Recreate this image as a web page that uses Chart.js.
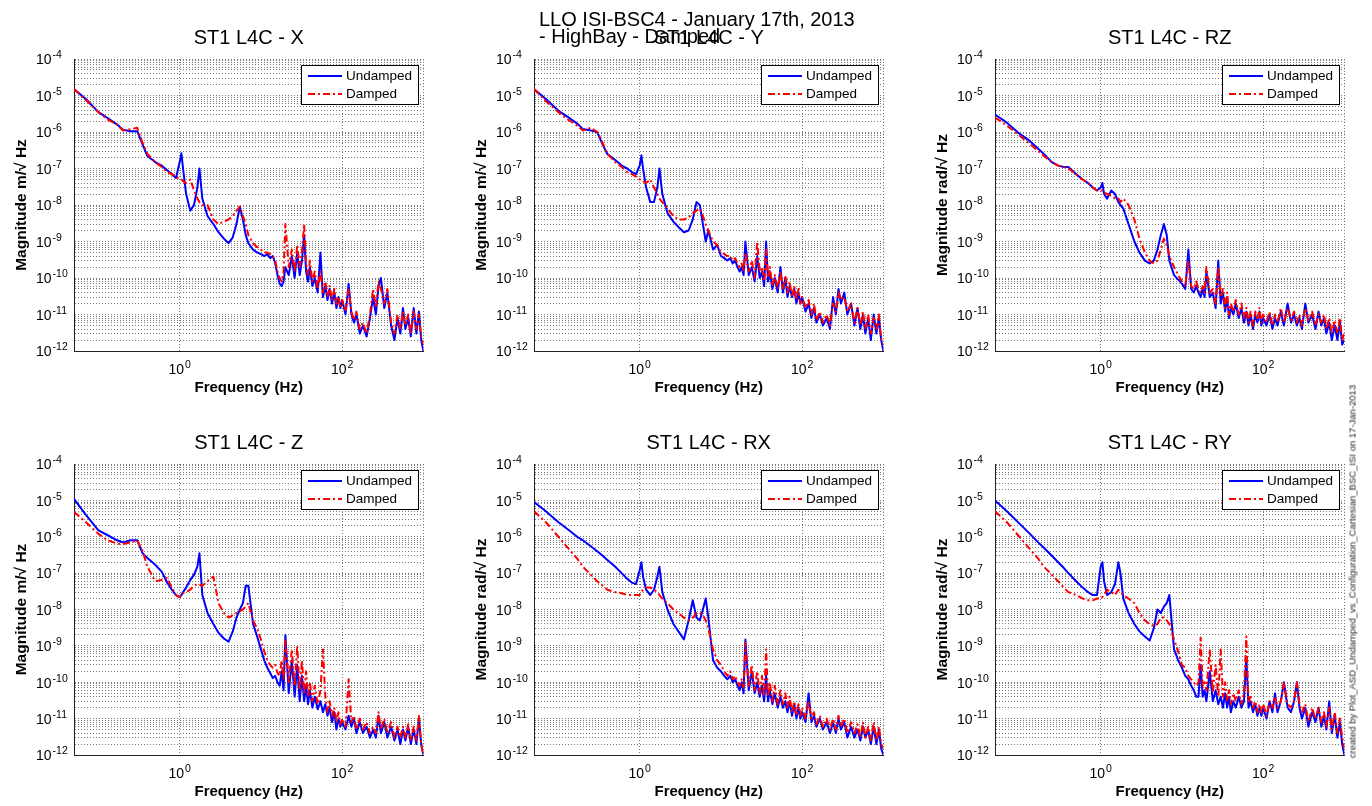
<!DOCTYPE html>
<html>
<head>
<meta charset="utf-8">
<title>LLO ISI-BSC4 ST1 L4C ASD</title>
<script src="https://cdn.jsdelivr.net/npm/chart.js@4.4.1/dist/chart.umd.min.js"></script>
<style>
  html, body { margin:0; padding:0; background:#fff; }
  body { width:1372px; height:806px; position:relative; overflow:hidden; font-family:"Liberation Sans", Arial, sans-serif; color:#000; }
  .panel { position:absolute; }
  .panel canvas { display:block; }
  #suptitle { position:absolute; left:539px; top:11px; font-size:20px; line-height:17px; white-space:nowrap; z-index:5; }
  #credit { position:absolute; left:1162px; top:566px; width:380px; height:11px; line-height:11px; font-size:9.5px; text-align:center; white-space:nowrap; transform:rotate(-90deg); transform-origin:50% 50%; z-index:5; color:#222; }
</style>
</head>
<body>
<div id="suptitle"></div>
<div id="credit"></div>
<script>
// ---------------- data ----------------
const FREQ = [0.05,0.07,0.1,0.13,0.17,0.2,0.25,0.3,0.35,0.4,
  0.5,0.6,0.7,0.8,0.9,1.0,1.05,1.1,1.2,1.35,
  1.5,1.65,1.75,1.9,2.2,2.6,3.0,3.5,4.0,4.5,
  5.0,5.5,6.0,6.5,7.0,8.0,9.0,10,11,12,
  13,14,15,16,17,18,19,20,22,24,
  26,28,30,32,34,36,38,40,43,46,
  50,54,58,62,66,70,75,80,85,90,
  95,100,110,120,130,140,150,165,180,200,
  220,240,260,280,300,330,360,400,440,480,
  520,560,600,650,700,760,820,880,940,1000];

const X_UND = [1.5e-5,8e-6,3.5e-6,2.4e-6,1.6e-6,1.15e-6,1.05e-6,1.05e-6,4.5e-7,2.2e-7,
  1.5e-7,1.2e-7,9e-8,7e-8,5.5e-8,1.5e-7,2.6e-7,1e-7,2e-8,7e-9,
  1e-8,3e-8,1e-7,1.5e-8,5e-9,3e-9,1.8e-9,1.2e-9,9e-10,1.3e-9,
  3e-9,9e-9,4e-9,1.5e-9,9e-10,6e-10,5e-10,4.5e-10,4e-10,4.5e-10,
  3.5e-10,4e-10,2.5e-10,1.2e-10,7e-11,6e-11,8e-11,2e-10,1.2e-10,4e-10,
  1e-10,5e-10,1.2e-10,3e-10,1.5e-9,1.5e-10,8e-11,2e-10,6e-11,1e-10,
  4e-11,5e-10,3e-11,6e-11,2.5e-11,5e-11,2e-11,4e-11,1.5e-11,3e-11,
  1.5e-11,2.5e-11,1e-11,7e-11,1e-11,6e-12,1e-11,3e-12,5e-12,2.5e-12,
  8e-12,3e-11,1e-11,6e-11,1e-10,1.5e-11,4e-11,5e-12,2e-12,8e-12,
  3e-12,1.5e-11,4e-12,8e-12,2.5e-12,1.5e-11,3e-12,1.2e-11,2e-12,1e-12];
const X_DAM = [1.5e-5,7.5e-6,3.5e-6,2.2e-6,1.6e-6,1.1e-6,1.2e-6,1.3e-6,5e-7,2.5e-7,
  1.5e-7,1.1e-7,8e-8,7e-8,6e-8,5e-8,5e-8,4.5e-8,4e-8,5e-8,
  2.5e-8,1.5e-8,1.2e-8,1e-8,1e-8,4e-9,3e-9,3.5e-9,4e-9,5e-9,
  7e-9,9e-9,5e-9,3e-9,1.5e-9,9e-10,7e-10,6e-10,5e-10,5e-10,
  4.5e-10,4e-10,3e-10,1.5e-10,1e-10,8e-11,1.5e-10,3e-9,2e-10,6e-10,
  1.5e-10,8e-10,2e-10,5e-10,3e-9,2.5e-10,1.2e-10,3e-10,8e-11,1.5e-10,
  5e-11,1.5e-10,4e-11,8e-11,3e-11,6e-11,2.5e-11,5e-11,2e-11,3e-11,
  1.5e-11,2.5e-11,1.2e-11,5e-11,1.2e-11,7e-12,1.2e-11,4e-12,6e-12,3e-12,
  1e-11,5e-11,1.5e-11,8e-11,5e-11,2e-11,5e-11,6e-12,3e-12,1e-11,
  4e-12,1.2e-11,5e-12,1e-11,3e-12,1.2e-11,4e-12,1e-11,2.5e-12,1.5e-12];

const Y_UND = [1.5e-5,8e-6,3.8e-6,2.6e-6,1.7e-6,1.2e-6,1.1e-6,1e-6,4.5e-7,2.5e-7,
  1.7e-7,1.2e-7,1e-7,8e-8,7e-8,1.2e-7,2.3e-7,1e-7,3e-8,1.2e-8,
  1.2e-8,3e-8,1e-7,2e-8,6e-9,3.5e-9,2.5e-9,1.8e-9,2e-9,4e-9,
  1.2e-8,1e-8,3e-9,1e-9,2e-9,6e-10,8e-10,4e-10,3.5e-10,3e-10,
  3.5e-10,2.5e-10,3e-10,2e-10,1.5e-10,2e-10,1.2e-10,1e-9,1.2e-10,2e-10,
  8e-11,4e-10,1e-10,1.5e-10,6e-11,1e-9,8e-11,1.5e-10,5e-11,1e-10,
  4e-11,2e-10,4e-11,1e-10,3e-11,6e-11,3e-11,5e-11,2e-11,4e-11,
  2e-11,3e-11,1.2e-11,2e-11,8e-12,1.5e-11,6e-12,1e-11,5e-12,8e-12,
  4e-12,3e-11,1e-11,5e-11,2e-11,4e-11,1e-11,2e-11,5e-12,1.5e-11,
  4e-12,1e-11,3e-12,8e-12,2e-12,1e-11,3e-12,8e-12,2e-12,1e-12];
const Y_DAM = [1.5e-5,7e-6,3.5e-6,2.2e-6,1.5e-6,1.1e-6,1.3e-6,1e-6,5e-7,2.5e-7,
  1.5e-7,1.1e-7,8e-8,7e-8,6e-8,5e-8,5e-8,4.5e-8,4e-8,5e-8,
  3e-8,2e-8,1.5e-8,1.2e-8,8e-9,5e-9,4e-9,4e-9,4.5e-9,6e-9,
  7e-9,8e-9,5e-9,3e-9,2e-9,1e-9,8e-10,5e-10,4.5e-10,4e-10,
  4e-10,3e-10,3.5e-10,2.5e-10,2e-10,2.5e-10,1.5e-10,5e-10,1.5e-10,3e-10,
  1e-10,1e-9,1.5e-10,2e-10,8e-11,6e-10,1e-10,2e-10,6e-11,1.2e-10,
  5e-11,1.5e-10,5e-11,1.2e-10,4e-11,8e-11,3e-11,6e-11,2.5e-11,5e-11,
  2e-11,3e-11,1.5e-11,2.5e-11,1e-11,2e-11,7e-12,1.2e-11,6e-12,1e-11,
  5e-12,2e-11,1.2e-11,4e-11,2.5e-11,3e-11,1.2e-11,2e-11,6e-12,1.5e-11,
  5e-12,1.2e-11,4e-12,1e-11,3e-12,8e-12,4e-12,1e-11,2e-12,1.5e-12];

const RZ_UND = [3e-6,1.8e-6,9e-7,6e-7,3.5e-7,2.5e-7,1.5e-7,1.2e-7,1.1e-7,1.1e-7,
  7e-8,5e-8,4e-8,3e-8,2.5e-8,3e-8,4e-8,2e-8,1.5e-8,2.5e-8,
  2e-8,1.2e-8,1e-8,8e-9,3e-9,1e-9,5e-10,3e-10,2.5e-10,3e-10,
  6e-10,1.5e-9,3e-9,1.5e-9,3e-10,1.2e-10,9e-11,7e-11,5e-11,6e-10,
  5e-11,4e-11,6e-11,4e-11,3e-11,5e-11,3e-11,1.5e-10,3e-11,4e-11,
  1.5e-11,3e-10,2e-11,4e-11,1.2e-11,3e-11,8e-12,1.5e-11,1e-11,2e-11,
  8e-12,1.5e-11,6e-12,1.2e-11,5e-12,1e-11,4e-12,1e-11,6e-12,1.2e-11,
  5e-12,8e-12,5e-12,1e-11,4e-12,8e-12,5e-12,1.2e-11,5e-12,2e-11,
  6e-12,1e-11,5e-12,8e-12,4e-12,2e-11,6e-12,1e-11,4e-12,1.2e-11,
  5e-12,8e-12,3e-12,6e-12,2e-12,5e-12,2e-12,6e-12,1.5e-12,2e-12];
const RZ_DAM = [2.5e-6,1.5e-6,8e-7,5e-7,3e-7,2.2e-7,1.5e-7,1.2e-7,1.1e-7,1e-7,
  7e-8,5e-8,4e-8,3e-8,2.5e-8,2.5e-8,2.5e-8,2.2e-8,2e-8,1.8e-8,
  1.5e-8,1.5e-8,1.2e-8,1.5e-8,1e-8,4e-9,1.2e-9,5e-10,3e-10,2.5e-10,
  3e-10,6e-10,1.2e-9,8e-10,4e-10,2e-10,1.2e-10,8e-11,6e-11,3e-10,
  6e-11,5e-11,8e-11,5e-11,4e-11,6e-11,4e-11,2e-10,4e-11,5e-11,
  2e-11,2e-10,3e-11,5e-11,1.5e-11,4e-11,1e-11,2e-11,1.2e-11,2.5e-11,
  1e-11,2e-11,8e-12,1.5e-11,6e-12,1.2e-11,5e-12,1.2e-11,7e-12,1.5e-11,
  6e-12,1e-11,6e-12,1.2e-11,5e-12,1e-11,6e-12,1.5e-11,6e-12,1.5e-11,
  7e-12,1.2e-11,6e-12,1e-11,5e-12,1.5e-11,7e-12,1.2e-11,5e-12,1e-11,
  6e-12,1e-11,4e-12,8e-12,3e-12,7e-12,3e-12,8e-12,2e-12,3e-12];

const Z_UND = [1.1e-5,4e-6,1.5e-6,1.1e-6,8e-7,7e-7,8e-7,8e-7,3.5e-7,2.6e-7,
  1.7e-7,1.1e-7,5.5e-8,3.5e-8,2.5e-8,2.2e-8,2.5e-8,3e-8,4e-8,6.5e-8,
  9e-8,1.5e-7,3.5e-7,2.5e-8,8e-9,4e-9,2.3e-9,1.6e-9,1.3e-9,2.5e-9,
  6e-9,1e-8,1.5e-8,4.5e-8,4.5e-8,4e-9,1.8e-9,8e-10,4e-10,2.5e-10,
  1.8e-10,1.3e-10,1.5e-10,1e-10,8e-11,2e-10,6e-11,2e-9,5e-11,4e-10,
  4e-11,3e-10,3e-11,1.5e-10,3e-11,8e-11,2.5e-11,6e-11,2e-11,4e-11,
  1.8e-11,3e-11,1.5e-11,2.5e-11,1.2e-11,2e-11,8e-12,1.5e-11,5e-12,1e-11,
  6e-12,8e-12,5e-12,1.2e-11,6e-12,1e-11,4e-12,8e-12,4e-12,6e-12,
  3e-12,5e-12,3e-12,1.2e-11,4e-12,8e-12,3e-12,6e-12,2.5e-12,5e-12,
  2e-12,5e-12,2.5e-12,6e-12,2e-12,5e-12,2e-12,1e-11,2e-12,1e-12];
const Z_DAM = [4.8e-6,2.5e-6,1.2e-6,8e-7,6.5e-7,6.3e-7,7e-7,8e-7,4e-7,1.5e-7,
  6e-8,6.5e-8,7.4e-8,4e-8,2.5e-8,2.2e-8,2.5e-8,2.8e-8,3e-8,3.5e-8,
  4.5e-8,5e-8,4.8e-8,4.5e-8,6e-8,8e-8,1.5e-8,8e-9,6e-9,7e-9,
  8e-9,9e-9,1e-8,1.2e-8,1.5e-8,5e-9,3e-9,1.5e-9,7e-10,4e-10,
  3e-10,2.5e-10,3e-10,1.8e-10,1.5e-10,4e-10,1.2e-10,1.5e-9,1e-10,8e-10,
  8e-11,1e-9,6e-11,4e-10,5e-11,2e-10,4e-11,1e-10,3e-11,8e-11,
  2.5e-11,6e-11,8e-10,4e-11,1.5e-11,3e-11,1.2e-11,2e-11,8e-12,1.5e-11,
  7e-12,1e-11,6e-12,1.2e-10,8e-12,1.2e-11,5e-12,1e-11,5e-12,8e-12,
  4e-12,6e-12,4e-12,1.5e-11,5e-12,1e-11,4e-12,8e-12,3e-12,6e-12,
  3e-12,6e-12,3e-12,7e-12,2.5e-12,6e-12,2.5e-12,1.2e-11,2e-12,1e-12];

const RX_UND = [9e-6,5e-6,2.5e-6,1.6e-6,1e-6,8e-7,5.5e-7,4e-7,3e-7,2.3e-7,
  1.5e-7,1e-7,7e-8,5.5e-8,5e-8,1.2e-7,2e-7,8e-8,3.5e-8,2.5e-8,
  3.5e-8,8e-8,1.5e-7,3e-8,1e-8,4e-9,2.5e-9,1.5e-9,5e-9,1.8e-8,
  6e-9,5e-9,1e-8,2e-8,6e-9,4e-10,2.5e-10,2e-10,1.5e-10,1.2e-10,
  1.5e-10,1e-10,1.2e-10,8e-11,6e-11,1e-10,5e-11,1.5e-9,6e-11,2e-10,
  5e-11,1e-10,4e-11,8e-11,3e-11,1.5e-10,3e-11,6e-11,2.5e-11,5e-11,
  2e-11,4e-11,2e-11,3e-11,1.5e-11,3e-11,1.2e-11,2.5e-11,1e-11,2e-11,
  1e-11,1.5e-11,8e-12,5e-11,8e-12,1.2e-11,6e-12,1e-11,5e-12,8e-12,
  4e-12,8e-12,4e-12,1e-11,5e-12,8e-12,3e-12,6e-12,3e-12,5e-12,
  2.5e-12,6e-12,3e-12,5e-12,2e-12,6e-12,2e-12,5e-12,1.5e-12,1e-12];
const RX_DAM = [5e-6,2.5e-6,1e-6,5e-7,2.5e-7,1.5e-7,9e-8,6e-8,4.5e-8,3.5e-8,
  3e-8,2.8e-8,2.5e-8,2.5e-8,2.5e-8,2.5e-8,3e-8,3.5e-8,4e-8,4e-8,
  3.5e-8,3e-8,2.5e-8,2e-8,1.5e-8,1e-8,8e-9,6e-9,5e-9,6e-9,
  8e-9,8e-9,7e-9,5e-9,3e-9,8e-10,4e-10,3e-10,2e-10,1.5e-10,
  2e-10,1.2e-10,1.5e-10,1e-10,8e-11,1.2e-10,7e-11,1.2e-9,8e-11,3e-10,
  6e-11,2e-10,5e-11,1.5e-10,4e-11,8e-10,4e-11,1e-10,3e-11,8e-11,
  2.5e-11,6e-11,2.5e-11,5e-11,2e-11,4e-11,1.5e-11,3e-11,1.2e-11,2.5e-11,
  1.2e-11,2e-11,1e-11,3e-11,1e-11,1.5e-11,7e-12,1.2e-11,6e-12,1e-11,
  5e-12,1e-11,5e-12,1.2e-11,6e-12,1e-11,4e-12,8e-12,4e-12,7e-12,
  3e-12,8e-12,3e-12,6e-12,2.5e-12,8e-12,2.5e-12,6e-12,2e-12,1.5e-12];

const RY_UND = [1e-5,5e-6,2.3e-6,1.3e-6,7e-7,5e-7,3e-7,2e-7,1.4e-7,1e-7,
  6e-8,4e-8,3e-8,2.5e-8,2.5e-8,1.5e-7,2e-7,6e-8,2.5e-8,3e-8,
  5e-8,2e-7,1e-7,2e-8,8e-9,4e-9,2.5e-9,1.8e-9,1.4e-9,3e-9,
  1e-8,8e-9,1.2e-8,1.5e-8,2.5e-8,8e-10,4e-10,2.5e-10,1.5e-10,1.2e-10,
  8e-11,6e-11,4e-11,4e-11,3e-10,4e-11,6e-11,3e-11,2e-10,3e-11,
  6e-11,2.5e-11,4e-11,2e-11,5e-11,2e-11,4e-11,1.5e-11,3e-11,2e-11,
  4e-11,2e-11,3e-11,5e-10,2e-11,3e-11,1.5e-11,2.5e-11,1.2e-11,2e-11,
  1.2e-11,2e-11,1e-11,3e-11,1.5e-11,5e-11,1.5e-11,3e-11,1e-10,2e-11,
  1.5e-11,3e-11,1e-10,2e-11,1e-11,2e-11,6e-12,1.5e-11,8e-12,2e-11,
  6e-12,1.2e-11,5e-12,3e-11,4e-12,1.2e-11,3e-12,8e-12,2e-12,1e-12];
const RY_DAM = [5e-6,2.5e-6,1e-6,5e-7,2.5e-7,1.5e-7,9e-8,6e-8,4e-8,3e-8,
  2.5e-8,2e-8,1.8e-8,1.8e-8,2e-8,2e-8,2.2e-8,2.5e-8,3.5e-8,3e-8,
  2.5e-8,3.5e-8,3e-8,2.5e-8,2e-8,1.5e-8,8e-9,5e-9,4e-9,3.5e-9,
  4e-9,6e-9,6e-9,5e-9,4e-9,1.5e-9,7e-10,3e-10,2.5e-10,1.5e-10,
  1.2e-10,1e-10,8e-11,1e-10,1.7e-9,8e-11,1e-10,6e-11,8e-10,5e-11,
  3e-10,4e-11,8e-10,4e-11,1e-10,3e-11,6e-11,2.5e-11,5e-11,3e-11,
  6e-11,2.5e-11,5e-11,1.8e-9,3e-11,4e-11,2e-11,3e-11,1.5e-11,2.5e-11,
  1.5e-11,2.5e-11,1.2e-11,3e-11,2e-11,4e-11,2e-11,3e-11,1e-10,2.5e-11,
  2e-11,3e-11,1e-10,2.5e-11,1.5e-11,2.5e-11,8e-12,2e-11,1e-11,2e-11,
  8e-12,1.5e-11,6e-12,2e-11,5e-12,1.5e-11,4e-12,1e-11,3e-12,1.5e-12];

const PANEL_TITLES = ['ST1 L4C - X','ST1 L4C - Y','ST1 L4C - RZ','ST1 L4C - Z','ST1 L4C - RX','ST1 L4C - RY'];
const Y_LABELS = ['Magnitude m/\u221A Hz','Magnitude m/\u221A Hz','Magnitude rad/\u221A Hz','Magnitude m/\u221A Hz','Magnitude rad/\u221A Hz','Magnitude rad/\u221A Hz'];
const X_LABEL = 'Frequency (Hz)';
const SERIES_NAMES = ['Undamped','Damped'];
const X_TICK_VALUES = [1, 100];
const X_TICK_LABELS = ['10\u2070','10\u00B2'];
const Y_TICK_VALUES = [1e-12,1e-11,1e-10,1e-9,1e-8,1e-7,1e-6,1e-5,1e-4];
const Y_TICK_LABELS = ['10\u207B\u00B9\u00B2','10\u207B\u00B9\u00B9','10\u207B\u00B9\u2070','10\u207B\u2079','10\u207B\u2078','10\u207B\u2077','10\u207B\u2076','10\u207B\u2075','10\u207B\u2074'];
const X_RANGE = [0.05, 1000];
const Y_RANGE = [1e-12, 1e-4];
const SUPTITLE_LINES = ['LLO ISI-BSC4 - January 17th, 2013', '- HighBay - Damped'];
const CREDIT = 'created by Plot_ASD_Undamped_vs_Configuration_Cartesian_BSC_ISI on 17-Jan-2013';

const UNDAMPED = [X_UND, Y_UND, RZ_UND, Z_UND, RX_UND, RY_UND];
const DAMPED = [X_DAM, Y_DAM, RZ_DAM, Z_DAM, RX_DAM, RY_DAM];

// ---------------- layout ----------------
const PLOT_LEFTS = [74, 534, 995];
const PLOT_TOPS = [59, 464];
const PLOT_HEIGHTS = [292, 291];
const PLOT_W = 350;
const PAD_L = 30, Y_AXIS_W = 38, PAD_R = 8, PAD_T = 4, TITLE_SIZE = 20, TITLE_PAD_B = 9, X_AXIS_H = 50;

const FONT = '"Liberation Sans", Arial, sans-serif';
Chart.defaults.font.family = FONT;
Chart.defaults.color = '#000';

document.getElementById('suptitle').innerHTML = SUPTITLE_LINES.join('<br>');
document.getElementById('credit').textContent = CREDIT;

// grid positions (major decades + minor 2..9)
const Y_GRID = [];
for (let d = -12; d <= -4; d++) {
  Y_GRID.push(Math.pow(10, d));
  if (d < -4) for (let m = 2; m <= 9; m++) Y_GRID.push(m * Math.pow(10, d));
}
const X_GRID = X_TICK_VALUES.concat([X_RANGE[1]]);

function labelFor(values, labels, v) {
  const i = values.findIndex(t => Math.abs(t - v) / t < 1e-6);
  return i >= 0 ? labels[i] : '';
}

// power-of-ten labels: split "10⁻⁵" into base "10" and exponent "-5"
const SUP_BACK = {'\u207B':'-','\u2070':'0','\u00B9':'1','\u00B2':'2','\u00B3':'3','\u2074':'4','\u2075':'5','\u2076':'6','\u2077':'7','\u2078':'8','\u2079':'9'};
function splitPow(label) {
  const chars = Array.from(label);
  return [chars.slice(0, 2).join(''), chars.slice(2).map(c => SUP_BACK[c] || c).join('')];
}

const powLabels = {
  id: 'powLabels',
  afterDraw(chart) {
    const ctx = chart.ctx;
    const xs = chart.scales.x, ys = chart.scales.y;
    const baseFont = '14px ' + FONT, expFont = '10.5px ' + FONT;
    ctx.save();
    ctx.fillStyle = '#000';
    ctx.textBaseline = 'alphabetic';
    ctx.textAlign = 'left';
    ys.ticks.forEach(t => {
      if (!t.label) return;
      const [b, e] = splitPow(t.label);
      const by = ys.getPixelForValue(t.value) + 5.3;
      ctx.font = baseFont;
      ctx.fillText(b, ys.left, by);
      const bw = ctx.measureText(b).width;
      ctx.font = expFont;
      ctx.fillText(e, ys.left + bw + 1, by - 6);
    });
    xs.ticks.forEach(t => {
      if (!t.label) return;
      const [b, e] = splitPow(t.label);
      const px = xs.getPixelForValue(t.value);
      ctx.font = baseFont;
      const bw = ctx.measureText(b).width;
      ctx.font = expFont;
      const ew = ctx.measureText(e).width;
      const x0 = px - (bw + 1 + ew) / 2;
      const by = xs.top + 23;
      ctx.font = baseFont;
      ctx.fillText(b, x0, by);
      ctx.font = expFont;
      ctx.fillText(e, x0 + bw + 1, by - 6.5);
    });
    ctx.restore();
  }
};

const boxLegend = {
  id: 'boxLegend',
  afterDatasetsDraw(chart) {
    const {ctx, chartArea} = chart;
    const w = 117, h = 39;
    const x0 = Math.round(chartArea.right - 5 - w), y0 = Math.round(chartArea.top + 6);
    ctx.save();
    ctx.fillStyle = '#fff';
    ctx.fillRect(x0, y0, w, h);
    ctx.strokeStyle = '#000';
    ctx.lineWidth = 1;
    ctx.setLineDash([]);
    ctx.strokeRect(x0 + 0.5, y0 + 0.5, w, h);
    chart.data.datasets.forEach((ds, i) => {
      const cy = y0 + 11 + i * 18;
      ctx.strokeStyle = ds.borderColor;
      ctx.lineWidth = 2;
      ctx.setLineDash(ds.borderDash || []);
      ctx.beginPath();
      ctx.moveTo(x0 + 7, cy);
      ctx.lineTo(x0 + 41, cy);
      ctx.stroke();
      ctx.setLineDash([]);
      ctx.fillStyle = '#000';
      ctx.font = '13.5px ' + FONT;
      ctx.textBaseline = 'middle';
      ctx.textAlign = 'left';
      ctx.fillText(ds.label, x0 + 45, cy);
    });
    ctx.restore();
  }
};

function makePanel(k) {
  const col = k % 3, row = Math.floor(k / 3);
  const plotLeft = PLOT_LEFTS[col], plotTop = PLOT_TOPS[row], plotH = PLOT_HEIGHTS[row];
  const titleBox = TITLE_SIZE * 1.2 + TITLE_PAD_B;
  const W = PAD_L + Y_AXIS_W + PLOT_W + PAD_R;
  const H = Math.round(PAD_T + titleBox + plotH + X_AXIS_H);
  const wrap = document.createElement('div');
  wrap.className = 'panel';
  const cv = document.createElement('canvas');
  cv.width = W; cv.height = H;
  cv.style.width = W + 'px'; cv.style.height = H + 'px';
  wrap.appendChild(cv);
  document.body.appendChild(wrap);
  wrap.style.left = (plotLeft - PAD_L - Y_AXIS_W) + 'px';
  wrap.style.top = (plotTop - PAD_T - titleBox) + 'px';

  const und = UNDAMPED[k], dam = DAMPED[k];
  const chart = new Chart(cv, {
    type: 'line',
    data: {
      datasets: [
        { label: SERIES_NAMES[0], data: FREQ.map((f, i) => ({x: f, y: und[i]})),
          borderColor: '#0000ff', borderWidth: 2, pointRadius: 0, tension: 0, fill: false,
          borderJoinStyle: 'round', order: 1 },
        { label: SERIES_NAMES[1], data: FREQ.map((f, i) => ({x: f, y: dam[i]})),
          borderColor: '#ff0000', borderWidth: 2, borderDash: [7, 3, 2, 3], pointRadius: 0, tension: 0, fill: false,
          borderJoinStyle: 'round', order: 0 }
      ]
    },
    options: {
      responsive: false,
      animation: false,
      devicePixelRatio: 1,
      events: [],
      layout: { padding: { left: PAD_L, right: PAD_R, top: PAD_T, bottom: 0 } },
      plugins: {
        legend: { display: false },
        tooltip: { enabled: false },
        title: { display: true, fullSize: false, text: PANEL_TITLES[k], color: '#000',
          font: { size: TITLE_SIZE, weight: 'normal', family: FONT, lineHeight: 1.2 },
          padding: { top: 0, bottom: TITLE_PAD_B } }
      },
      scales: {
        x: {
          type: 'logarithmic', position: 'bottom',
          min: X_RANGE[0], max: X_RANGE[1],
          afterBuildTicks: s => { s.ticks = X_GRID.map(v => ({value: v})); },
          afterFit: s => { s.height = X_AXIS_H; },
          ticks: { autoSkip: false, maxRotation: 0, minRotation: 0, padding: 8.6, color: 'rgba(0,0,0,0)',
            font: { size: 14, family: FONT },
            callback: v => labelFor(X_TICK_VALUES, X_TICK_LABELS, v) },
          grid: { color: '#7a7a7a', lineWidth: 1, drawTicks: false },
          border: { display: true, color: '#222', width: 1, dash: [1, 2] },
          title: { display: true, text: X_LABEL, color: '#000',
            font: { size: 15, weight: 'bold', family: FONT, lineHeight: 1.2 },
            padding: { top: 0, bottom: 4 } }
        },
        y: {
          type: 'logarithmic', position: 'left',
          min: Y_RANGE[0], max: Y_RANGE[1],
          afterBuildTicks: s => { s.ticks = Y_GRID.map(v => ({value: v})); },
          afterFit: s => { s.width = Y_AXIS_W; },
          ticks: { autoSkip: false, crossAlign: 'far', padding: 0, color: 'rgba(0,0,0,0)',
            font: { size: 14, family: FONT },
            callback: v => labelFor(Y_TICK_VALUES, Y_TICK_LABELS, v) },
          grid: { color: '#7a7a7a', lineWidth: 1, drawTicks: false },
          border: { display: true, color: '#222', width: 1, dash: [1, 2] },
          title: { display: true, text: Y_LABELS[k], color: '#000',
            font: { size: 15.5, weight: 'bold', family: FONT, lineHeight: 1.2 },
            padding: { top: -23.5, bottom: 0 } }
        }
      }
    },
    plugins: [boxLegend, powLabels]
  });
  const ca = chart.chartArea;
  wrap.style.left = (plotLeft - ca.left) + 'px';
  wrap.style.top = (plotTop - ca.top) + 'px';
}

for (let k = 0; k < 6; k++) makePanel(k);
</script>
</body>
</html>
